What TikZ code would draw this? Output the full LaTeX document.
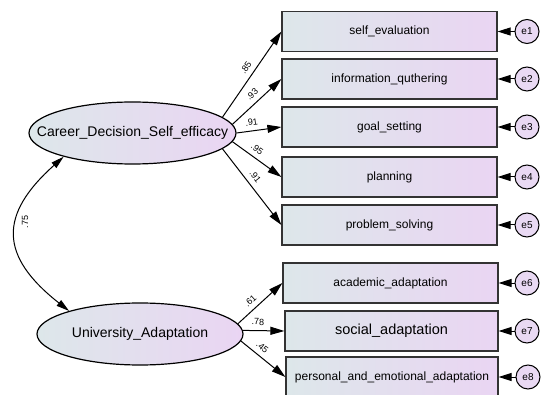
\documentclass[tikz,border=0pt]{standalone}
\usepackage{fontspec}
\setmainfont{Liberation Sans}
\usetikzlibrary{arrows.meta,shapes.geometric}
\definecolor{fillL}{HTML}{DDE7EA}
\definecolor{fillR}{HTML}{EAD5F3}
\definecolor{errfill}{HTML}{E9D9F3}
\definecolor{edge}{HTML}{333333}
\begin{document}
\begin{tikzpicture}[x=1pt,y=-1pt,
  obs/.style={draw=edge, line width=1.2pt, left color=fillL, right color=fillR,
    minimum width=215pt, minimum height=40pt, inner sep=0pt,
    font=\fontsize{12}{14}\selectfont},
  lat/.style={ellipse, draw=black, line width=1.2pt, left color=fillL, right color=fillR,
    minimum width=207pt, minimum height=62pt, inner sep=0pt,
    font=\fontsize{14}{16}\selectfont},
  err/.style={circle, draw=black, line width=1pt, fill=errfill, minimum size=24pt,
    inner sep=0pt, font=\fontsize{10}{12}\selectfont},
  loadarrow/.style={line width=1pt, -{Triangle[length=14pt,width=8pt]}},
  errarrow/.style={line width=1pt, -{Triangle[length=13pt,width=8pt]}},
  coef/.style={font=\fontsize{9}{10}\selectfont, sloped, above=4pt, inner sep=1pt},
]
\useasboundingbox (0,0) rectangle (543,395);
\fill[white] (0,0) rectangle (543,395);

% latent variables
\node[lat] (cdse) at (132.5,133) {\makebox[0pt]{Career\_Decision\_Self\_efficacy}};
\node[lat, minimum width=206pt] (ua) at (140,334) {\makebox[0pt]{University\_Adaptation}};

% observed variables
\node[obs] (b1) at (389.5,31.5) {self\_evaluation};
\node[obs] (b2) at (389.5,79) {information\_quthering};
\node[obs] (b3) at (389.5,127) {goal\_setting};
\node[obs] (b4) at (389.5,177) {planning};
\node[obs] (b5) at (389.5,225) {problem\_solving};
\node[obs] (b6) at (390.5,283) {academic\_adaptation};
\node[obs, minimum width=213pt, font=\fontsize{14.5}{16}\selectfont] (b7) at (391.5,331) {social\_adaptation};
\node[obs, minimum width=212pt] (b8) at (392,377) {personal\_and\_emotional\_adaptation};

% error terms
\node[err] (e1) at (527,31.5) {e1};
\node[err] (e2) at (527,79) {e2};
\node[err] (e3) at (527,127) {e3};
\node[err] (e4) at (527,177) {e4};
\node[err] (e5) at (527,225) {e5};
\node[err] (e6) at (527,283) {e6};
\node[err] (e7) at (527,331) {e7};
\node[err] (e8) at (528,377) {e8};

% loadings
\draw[loadarrow] (cdse.10) -- node[coef, pos=0.52] {.85} (b1.west);
\draw[loadarrow] (cdse.5) -- node[coef, pos=0.52] {.93} (b2.west);
\draw[loadarrow] (cdse.0) -- node[coef, pos=0.36] {.91} (b3.west);
\draw[loadarrow] (cdse.355) -- node[coef, pos=0.4] {.95} (b4.west);
\draw[loadarrow] (cdse.350) -- node[coef, pos=0.44] {.91} (b5.west);
\draw[loadarrow] (ua.6) -- node[coef, pos=0.41] {.61} (b6.west);
\draw[loadarrow] (ua.2) -- node[coef, pos=0.36] {.78} (b7.west);
\draw[loadarrow] (ua.356) -- node[coef, pos=0.36] {.45} (b8.west);

% error arrows
\foreach \i in {1,...,8} {
  \draw[errarrow] (e\i) -- (b\i.east);
}

% correlation
\draw[line width=1pt, {Triangle[length=13pt,width=7pt]}-{Triangle[length=13pt,width=7pt]}]
  (cdse.199) .. controls +(-65,58) and +(-70,-55) .. (ua.162);
\node[font=\fontsize{9}{10}\selectfont, rotate=90, inner sep=1pt] (l75) at (25,222) {.75};
\end{tikzpicture}
\end{document}
